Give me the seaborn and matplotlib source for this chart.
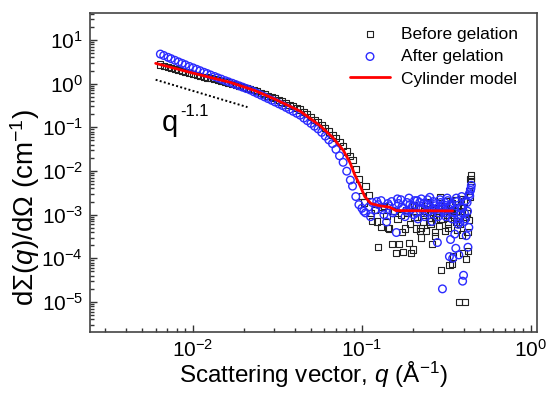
import numpy as np
import pandas as pd
import seaborn as sns
import matplotlib.pyplot as plt
from matplotlib.ticker import LogLocator, NullFormatter

# ── data ─────────────────────────────────────────────────────────────────────
# low-q part, both samples share one q grid (1/Å)
q_low = [0.0064, 0.0067, 0.0071, 0.0074, 0.0078, 0.0082, 0.0086, 0.0090, 0.0095,
         0.0100, 0.0105, 0.0110, 0.0116, 0.0121, 0.0127, 0.0134, 0.0140, 0.0147,
         0.0155, 0.0162, 0.0171, 0.0179, 0.0188, 0.0197, 0.0207, 0.0218, 0.0229,
         0.0240, 0.0252, 0.0265, 0.0278, 0.0292, 0.0306, 0.0322, 0.0338, 0.0355,
         0.0372, 0.0391, 0.0411, 0.0431, 0.0453, 0.0475, 0.0499, 0.0524, 0.0550,
         0.0578, 0.0607, 0.0637, 0.0669, 0.0702, 0.0737, 0.0774, 0.0813, 0.0854]
before_low = [2.75, 2.55, 2.38, 2.27, 2.15, 2.04, 1.94, 1.85, 1.76,
              1.67, 1.60, 1.52, 1.45, 1.39, 1.33, 1.26, 1.21, 1.16,
              1.10, 1.06, 1.00, 0.95, 0.90, 0.85, 0.80, 0.75, 0.71,
              0.67, 0.62, 0.58, 0.53, 0.49, 0.46, 0.43, 0.39, 0.36,
              0.33, 0.305, 0.28, 0.255, 0.225, 0.198, 0.172, 0.150, 0.132,
              0.112, 0.095, 0.080, 0.067, 0.056, 0.046, 0.037, 0.028, 0.022]
after_low = [4.76, 4.42, 4.01, 3.74, 3.43, 3.15, 2.92, 2.71, 2.48,
             2.30, 2.13, 1.98, 1.82, 1.71, 1.58, 1.46, 1.36, 1.27,
             1.17, 1.10, 1.02, 0.953, 0.888, 0.830, 0.771, 0.716, 0.652,
             0.598, 0.547, 0.498, 0.455, 0.416, 0.380, 0.346, 0.316, 0.286,
             0.259, 0.233, 0.210, 0.190, 0.163, 0.142, 0.123, 0.106, 0.092,
             0.0767, 0.063, 0.0516, 0.0424, 0.0313, 0.0223, 0.0158, 0.0099, 0.0062]

# high-q part: noisy plateau and the upturn at the detector edge
q_high = [0.088, 0.092, 0.096, 0.100, 0.105, 0.110, 0.115, 0.120, 0.125, 0.130,
          0.135, 0.140, 0.145, 0.150, 0.155, 0.160, 0.165, 0.170, 0.175, 0.180,
          0.185, 0.190, 0.195, 0.200, 0.205, 0.210, 0.215, 0.220, 0.225, 0.230,
          0.235, 0.240, 0.245, 0.250, 0.255, 0.260, 0.265, 0.270, 0.275, 0.280,
          0.285, 0.290, 0.295, 0.300, 0.305, 0.310, 0.315, 0.320, 0.325, 0.330,
          0.335, 0.340, 0.345, 0.350, 0.355, 0.360, 0.365, 0.370, 0.375, 0.380,
          0.385, 0.390, 0.395, 0.400, 0.405, 0.410, 0.415, 0.420, 0.425, 0.430,
          0.435, 0.440, 0.445]
before_high = [0.018, 0.011, 0.0065, 0.0027, 0.0045, 0.0028, 0.00071, 0.0013, 0.00018, 0.00053,
               0.0016, 0.00095, 0.00048, 0.00021, 0.0012, 0.00013, 0.00021, 0.00098, 0.00014, 0.00048,
               0.0011, 0.00022, 0.00013, 0.00016, 0.0009, 0.00048, 0.0014, 0.00043, 0.00030, 0.0007,
               0.0012, 0.00043, 0.0018, 0.00085, 0.0006, 0.00021, 0.0013, 0.00033, 0.0009, 0.0011,
               0.00055, 0.0025, 0.000053, 0.0008, 0.0014, 0.00042, 0.0020, 0.0010, 0.00062, 0.00007,
               0.0013, 0.000075, 0.00011, 0.0009, 0.0021, 0.0021, 0.00045, 0.0012, 0.000010, 0.0007,
               0.0023, 0.00035, 0.0015, 0.00013, 0.0009, 0.000010, 0.000098, 0.0011, 0.00015, 0.00074,
               0.0025, 0.0066, 0.0079]
after_high = [0.0045, 0.0026, 0.0017, 0.0014, 0.0011, 0.0015, 0.0019, 0.0013, 0.0017, 0.0021,
              0.0010, 0.00068, 0.0016, 0.0020, 0.0012, 0.00039, 0.0018, 0.0022, 0.0014, 0.0009,
              0.0019, 0.0024, 0.0013, 0.0016, 0.0021, 0.0011, 0.0008, 0.0019, 0.0023, 0.0014,
              0.0009, 0.0017, 0.0022, 0.0012, 0.0015, 0.0007, 0.0020, 0.0013, 0.0018, 0.00023,
              0.0011, 0.0022, 0.0016, 0.000020, 0.0012, 0.0019, 0.0009, 0.0024, 0.0014, 0.00011,
              0.00027, 0.0017, 0.00010, 0.0011, 0.00036, 0.00017, 0.0020, 0.0008, 0.00012, 0.00067,
              0.0015, 0.0026, 0.000030, 0.000041, 0.0011, 0.00080, 0.00033, 0.0019, 0.00018, 0.00051,
              0.0027, 0.0036, 0.0047]

# second (interleaved) high-q frame
q_high2 = [0.1025, 0.1125, 0.1225, 0.1325, 0.1425, 0.1525, 0.1625, 0.1725, 0.1825,
           0.1925, 0.2025, 0.2125, 0.2225, 0.2325, 0.2425, 0.2525, 0.2625, 0.2725,
           0.2825, 0.2925, 0.3025, 0.3125, 0.3225, 0.3325, 0.3425, 0.3525, 0.3625,
           0.3725, 0.3825, 0.3925, 0.4025, 0.4125, 0.4225, 0.4325, 0.4425]
before_high2 = [0.0019, 0.0011, 0.0007, 0.0015, 0.0005, 0.0012, 0.0008, 0.0004, 0.0013,
                0.0006, 0.0017, 0.0009, 0.0005, 0.0011, 0.0019, 0.0007, 0.0010, 0.0004,
                0.0014, 0.0008, 0.0011, 0.0016, 0.0005, 0.0012, 0.0018, 0.0010, 0.0007,
                0.0015, 0.0006, 0.0012, 0.0020, 0.0009, 0.0004, 0.0035, 0.0058]
after_high2 = [0.0012, 0.0009, 0.0020, 0.0013, 0.0018, 0.0011, 0.0023, 0.0015, 0.0012,
               0.0017, 0.0010, 0.0021, 0.0014, 0.0018, 0.0011, 0.0025, 0.0013, 0.0016,
               0.0009, 0.0019, 0.0014, 0.0011, 0.0021, 0.0016, 0.0008, 0.0013, 0.0024,
               0.0006, 0.0010, 0.0014, 0.0007, 0.0021, 0.0012, 0.0030, 0.0040]

# cylinder model fit
q_model = [0.0060, 0.0100, 0.0166, 0.0233, 0.0306, 0.0430, 0.0564, 0.0673, 0.0775,
           0.0850, 0.0906, 0.0973, 0.1040, 0.1130, 0.1272, 0.1466, 0.1590, 0.3450]
I_model = [2.92, 1.74, 1.07, 0.69, 0.44, 0.235, 0.11, 0.058, 0.030,
           0.0156, 0.0083, 0.0047, 0.0026, 0.0018, 0.0016, 0.00148, 0.00124, 0.00122]

# q^-1.1 guide to the eye
q_guide = [0.0060, 0.0210]
I_guide = [1.23, 0.29]

# ── build dataframes ─────────────────────────────────────────────────────────
before_df = pd.DataFrame({'q': q_low + q_high + q_high2,
                          'I': before_low + before_high + before_high2})
after_df = pd.DataFrame({'q': q_low + q_high + q_high2,
                         'I': after_low + after_high + after_high2})
model_df = pd.DataFrame({'q': q_model, 'I': I_model})

# ── style ────────────────────────────────────────────────────────────────────
sns.set_style('ticks')
plt.rcParams['font.family'] = ['Liberation Sans', 'DejaVu Sans']
plt.rcParams['mathtext.fontset'] = 'custom'
plt.rcParams['mathtext.rm'] = 'Liberation Sans'
plt.rcParams['mathtext.it'] = 'Liberation Sans:italic'
plt.rcParams['mathtext.default'] = 'regular'
plt.rcParams['text.color'] = 'black'
plt.rcParams['axes.labelcolor'] = 'black'
plt.rcParams['xtick.labelcolor'] = 'black'
plt.rcParams['ytick.labelcolor'] = 'black'

fig = plt.figure(figsize=(5.5, 3.94), dpi=100)
ax = fig.add_axes([0.1636, 0.1581, 0.8133, 0.8089])

sns.scatterplot(data=before_df, x='q', y='I', ax=ax, marker='s', s=20,
                facecolor='none', edgecolor='#222222', linewidth=0.8,
                label='Before gelation', zorder=2)
sns.scatterplot(data=after_df, x='q', y='I', ax=ax, marker='o', s=30,
                facecolor='none', edgecolor='#2b2bff', linewidth=1.0,
                label='After gelation', zorder=3)
sns.lineplot(data=model_df, x='q', y='I', ax=ax, color='#ff0000', lw=2,
             sort=False, estimator=None, label='Cylinder model', zorder=4)
ax.plot(q_guide, I_guide, color='black', lw=1.4, ls=(0, (1, 1.2)), zorder=1)

ax.set_xscale('log')
ax.set_yscale('log')
ax.set_xlim(0.00245, 1.094)
ax.set_ylim(2.09e-6, 41.5)
ax.yaxis.set_major_locator(LogLocator(base=10, numticks=20))
ax.yaxis.set_minor_locator(LogLocator(base=10, subs=np.arange(2, 10), numticks=20))
ax.yaxis.set_minor_formatter(NullFormatter())
ax.xaxis.set_minor_formatter(NullFormatter())

# power-law annotation
ax.text(0.00653, 0.084, 'q', fontsize=21, va='baseline', ha='left')
ax.text(0.00838, 0.185, '-1.1', fontsize=12, va='baseline', ha='left')

ax.set_xlabel(r'Scattering vector, $\mathit{q}$ (Å$^{-1}$)', fontsize=17.5)
ax.set_ylabel(r'd$\Sigma$($\mathit{q}$)/d$\Omega$ (cm$^{-1}$)', fontsize=20)
ax.xaxis.set_label_coords(0.5, -0.088)
ax.yaxis.set_label_coords(-0.108, 0.39)

ax.tick_params(which='both', direction='in', top=False, right=False,
               labelsize=15, color='#333333', width=1)
ax.tick_params(which='major', length=5, pad=5)
ax.tick_params(which='minor', length=3)
for sp in ax.spines.values():
    sp.set_color('#444444')
    sp.set_linewidth(1.2)

ax.legend(loc='upper left', bbox_to_anchor=(0.562, 0.985), frameon=False,
          fontsize=12.5, borderpad=0, handlelength=2.3, handletextpad=0.65,
          labelspacing=0.42, markerscale=1.0)

fig.savefig('out.png', dpi=100)
